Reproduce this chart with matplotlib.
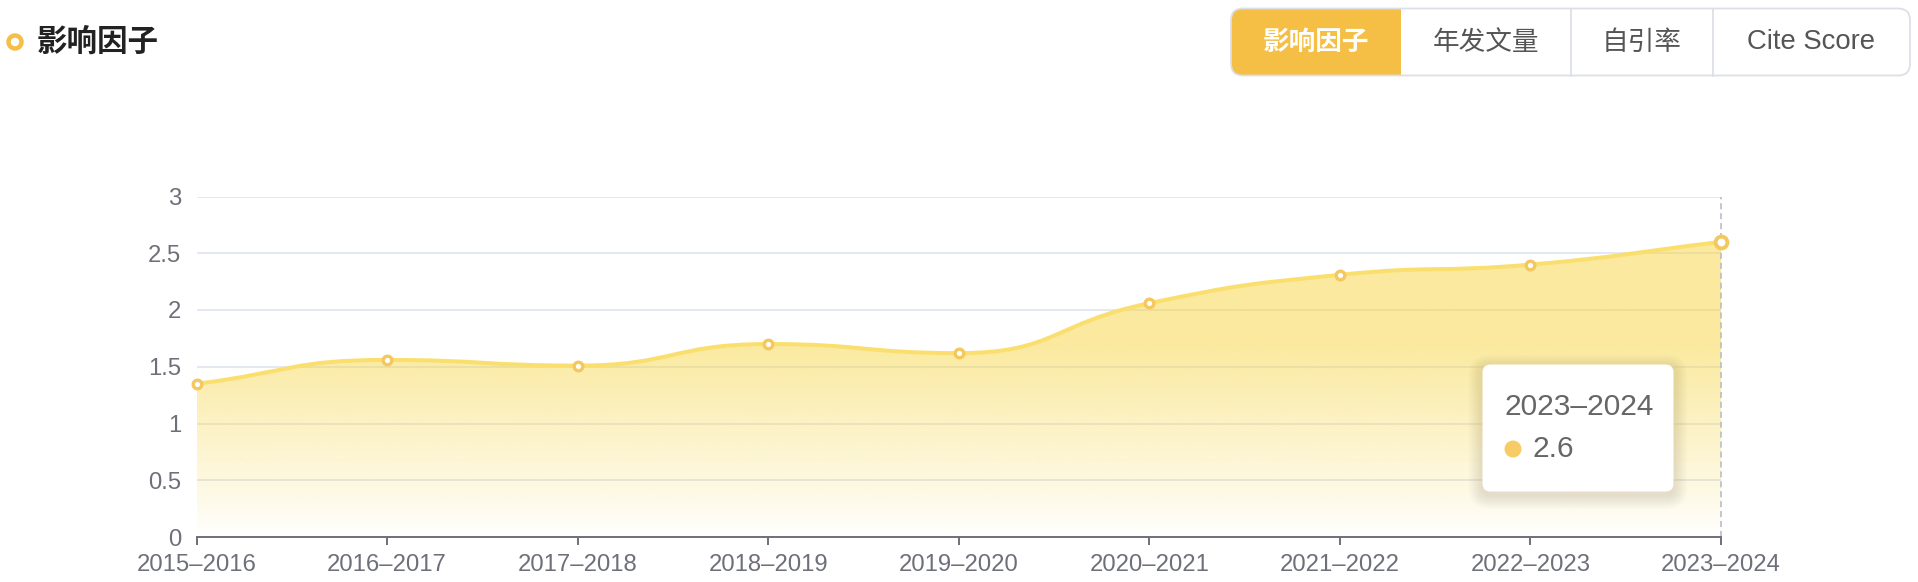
import numpy as np
import matplotlib
matplotlib.use("Agg")
import matplotlib.pyplot as plt
from matplotlib.path import Path
from matplotlib.patches import PathPatch, FancyBboxPatch, Rectangle, Circle

#***********************************************
#                                   DATA
years = ["2015–2016", "2016–2017", "2017–2018", "2018–2019", "2019–2020",
         "2020–2021", "2021–2022", "2022–2023", "2023–2024"]
impact = [1.35, 1.56, 1.51, 1.70, 1.62, 2.06, 2.31, 2.40, 2.60]
yticks = [0, 0.5, 1, 1.5, 2, 2.5, 3]
ytick_labels = ["0", "0.5", "1", "1.5", "2", "2.5", "3"]
tabs = ["影响因子", "年发文量", "自引率", "Cite Score"]
title = "影响因子"
tip_year = years[-1]
tip_value = "2.6"

W, H = 1918, 582
CJK = ["Noto Sans CJK SC", "DejaVu Sans"]
NUM = ["Liberation Sans", "DejaVu Sans"]

LINE = "#FADF6E"
MARK = "#F5C85E"
ORANGE = "#F5BE45"
GRID = "#E0E6F1"
AXIS = "#6E7079"

fig = plt.figure(figsize=(W / 100, H / 100), dpi=100)
fig.patch.set_facecolor("white")

# plot area in pixels
x0, x1 = 196.5, 1721.0
ytop, ybot = 196.5, 537.0
ax = fig.add_axes([x0 / W, 1 - ybot / H, (x1 - x0) / W, (ybot - ytop) / H])
ax.set_xlim(0, len(years) - 1)
ax.set_ylim(0, 3)
ax.set_facecolor("none")
for s in ["top", "right", "left"]:
    ax.spines[s].set_visible(False)
ax.spines["bottom"].set_color(AXIS)
ax.spines["bottom"].set_linewidth(1.4)
ax.spines["bottom"].set_zorder(6)

for yv in yticks[1:]:
    ax.axhline(yv, color=GRID, lw=1.3, zorder=0)

#***********************************************
#                    SMOOTH CURVE (echarts-like)
sx = (x1 - x0) / (len(years) - 1)
sy = (ybot - ytop) / 3.0
px = [i * sx for i in range(len(impact))]
py = [v * sy for v in impact]

def clamp(v, a, b):
    return max(min(v, max(a, b)), min(a, b))

def bezier_ctrl(px, py, smooth=0.5):
    n = len(px)
    cin = [None] * n
    cout = [None] * n
    for i in range(n):
        x, y = px[i], py[i]
        pxv, pyv = (px[i - 1], py[i - 1]) if i > 0 else (x, y)
        nxv, nyv = (px[i + 1], py[i + 1]) if i < n - 1 else (x, y)
        vx, vy = nxv - pxv, nyv - pyv
        d0 = np.hypot(x - pxv, y - pyv)
        d1 = np.hypot(nxv - x, nyv - y)
        r = d1 / (d0 + d1)
        c0x, c0y = x - vx * smooth * (1 - r), y - vy * smooth * (1 - r)
        c1x, c1y = x + vx * smooth * r, y + vy * smooth * r
        if 0 < i < n - 1:
            c1x, c1y = clamp(c1x, nxv, x), clamp(c1y, nyv, y)
            vx, vy = c1x - x, c1y - y
            c0x, c0y = x - vx * d0 / d1, y - vy * d0 / d1
            c0x, c0y = clamp(c0x, pxv, x), clamp(c0y, pyv, y)
            vx, vy = x - c0x, y - c0y
            c1x, c1y = x + vx * d1 / d0, y + vy * d1 / d0
        cin[i] = (c0x, c0y)
        cout[i] = (c1x, c1y)
    return cin, cout

cin, cout = bezier_ctrl(px, py)
verts = [(px[0], py[0])]
codes = [Path.MOVETO]
for i in range(len(px) - 1):
    verts += [cout[i], cin[i + 1], (px[i + 1], py[i + 1])]
    codes += [Path.CURVE4] * 3
verts = [(vx_ / sx, vy_ / sy) for vx_, vy_ in verts]

line_path = Path(verts, codes)
fill_verts = verts + [(len(years) - 1, 0), (0, 0), verts[0]]
fill_codes = codes + [Path.LINETO, Path.LINETO, Path.CLOSEPOLY]
fill_path = Path(fill_verts, fill_codes)

# gradient fill
yy = np.linspace(0, 3, 400)
alpha = 0.52 * np.clip(yy / 1.7, 0, 1) ** 0.9
grad = np.zeros((len(yy), 1, 4))
grad[:, 0, 0] = 247 / 255
grad[:, 0, 1] = 214 / 255
grad[:, 0, 2] = 70 / 255
grad[:, 0, 3] = alpha
im = ax.imshow(grad, extent=(0, len(years) - 1, 0, 3), origin="lower",
               aspect="auto", zorder=1, interpolation="bilinear")
clip = PathPatch(fill_path, transform=ax.transData, facecolor="none", edgecolor="none")
ax.add_patch(clip)
im.set_clip_path(clip)

ax.add_patch(PathPatch(line_path, facecolor="none", edgecolor=LINE, lw=2.9,
                       zorder=3, capstyle="round"))

# pointer line at hovered item
ax.plot([len(years) - 1] * 2, [0, 3], color="#B4B8C8", lw=1.1,
        dashes=(4, 2.5), zorder=2, clip_on=False)

xs = np.arange(len(years))
ax.plot(xs[:-1], impact[:-1], ls="none", marker="o", ms=6.2, mew=2.4,
        mec=MARK, mfc="white", zorder=4, clip_on=False)
ax.plot(xs[-1:], impact[-1:], ls="none", marker="o", ms=8.5, mew=2.8,
        mec=MARK, mfc="white", zorder=5, clip_on=False)

ax.set_xticks(xs)
ax.set_xticklabels(years, fontfamily=NUM, fontsize=17.2, color=AXIS)
ax.tick_params(axis="x", length=6, width=1.4, color=AXIS, pad=6)
ax.set_yticks(yticks)
ax.set_yticklabels(ytick_labels, fontfamily=NUM, fontsize=17.2, color=AXIS)
ax.tick_params(axis="y", length=0, pad=11)

#***********************************************
#                    OVERLAY: title, tabs, tooltip
ov = fig.add_axes([0, 0, 1, 1], zorder=10)
ov.set_xlim(0, W)
ov.set_ylim(H, 0)
ov.axis("off")
ov.patch.set_alpha(0)

ov.add_patch(Circle((15, 42), 6.5, facecolor="white", edgecolor=ORANGE, lw=3.2))
ov.text(37, 42, title, fontfamily=CJK, fontsize=22, fontweight="bold",
        color="#222222", va="center", ha="left")

bx0, bx1, by0, by1 = 1231, 1910, 8.5, 75.5
dividers = [1400.5, 1570.5, 1712.5]
outer = FancyBboxPatch((bx0, by0), bx1 - bx0, by1 - by0,
                       boxstyle="round,pad=0,rounding_size=12",
                       facecolor="white", edgecolor="none")
ov.add_patch(outer)
act = Rectangle((bx0, by0), dividers[0] - bx0, by1 - by0, facecolor=ORANGE, edgecolor="none")
ov.add_patch(act)
act.set_clip_path(outer)
ov.add_patch(FancyBboxPatch((bx0, by0), bx1 - bx0, by1 - by0,
                            boxstyle="round,pad=0,rounding_size=12",
                            facecolor="none", edgecolor="#DCDFE6", lw=1.3))
for d in dividers[1:]:
    ov.plot([d, d], [by0, by1], color="#DCDFE6", lw=1.3)
edges = [bx0] + dividers + [bx1]
for k, t in enumerate(tabs):
    cx = (edges[k] + edges[k + 1]) / 2
    ov.text(cx, 42, t, fontfamily=CJK if k < 3 else NUM,
            fontsize=19.2 if k < 3 else 19.8,
            color="white" if k == 0 else "#555555", fontweight="bold" if k == 0 else "normal",
            ha="center", va="center")

# tooltip
tx0, tx1, ty0, ty1 = 1482.5, 1673.5, 364.5, 491.5
for k in range(14, 0, -1):
    ov.add_patch(FancyBboxPatch((tx0 - k, ty0 - k + 4), tx1 - tx0 + 2 * k, ty1 - ty0 + 2 * k,
                                boxstyle="round,pad=0,rounding_size=%d" % (8 + k),
                                facecolor="#6b5a20", edgecolor="none", alpha=0.009))
ov.add_patch(FancyBboxPatch((tx0, ty0), tx1 - tx0, ty1 - ty0,
                            boxstyle="round,pad=0,rounding_size=8",
                            facecolor="white", edgecolor="none"))
ov.text(1505, 407, tip_year, fontfamily=NUM, fontsize=21.5, color="#666666",
        ha="left", va="center")
ov.add_patch(Circle((1513, 449), 8.5, facecolor="#F7CC66", edgecolor="none"))
ov.text(1532, 449, tip_value, fontfamily=NUM, fontsize=21.5, color="#666666",
        ha="left", va="center")

fig.savefig("out.png", dpi=100, facecolor="white")
